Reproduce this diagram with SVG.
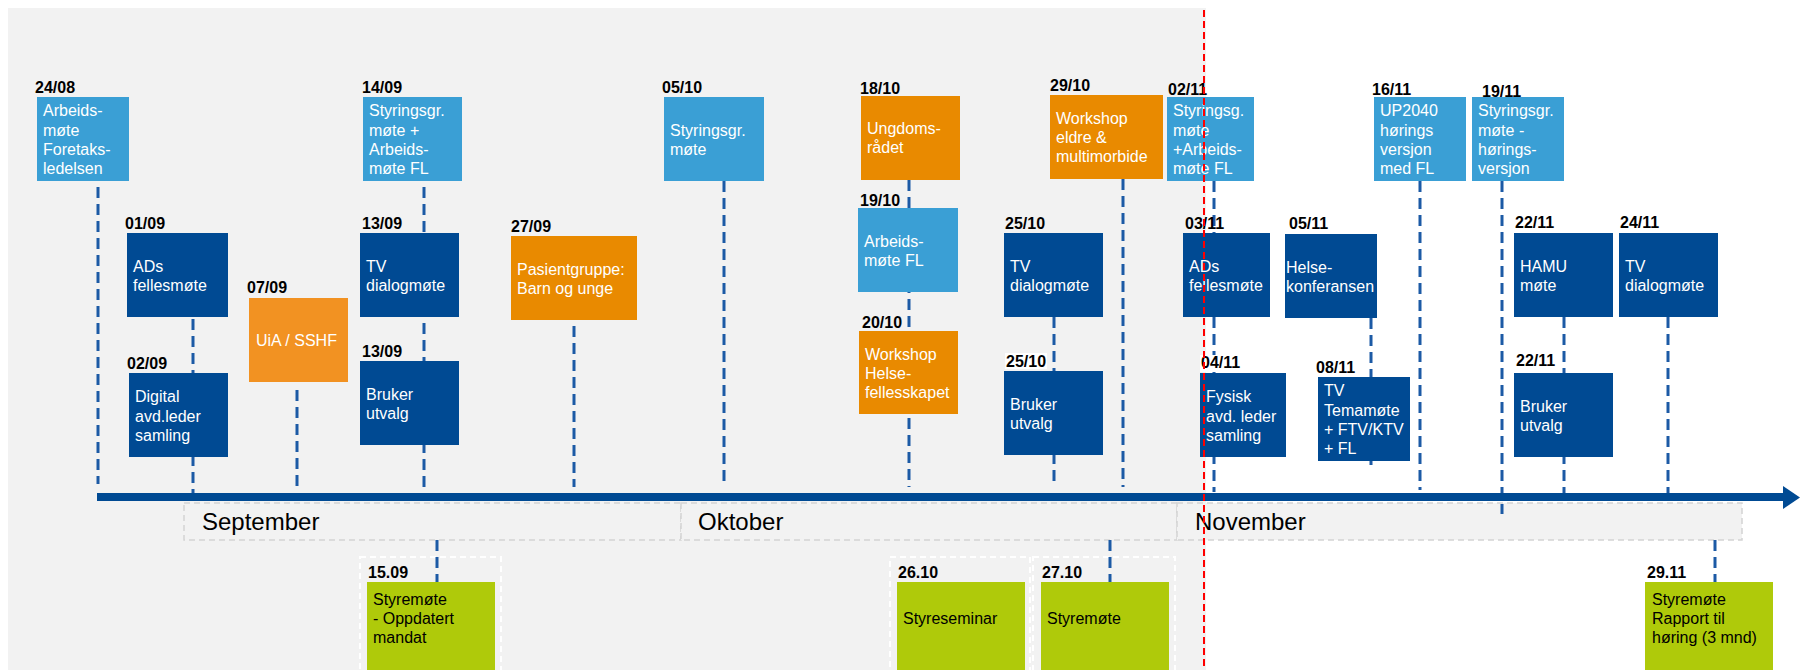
<svg xmlns="http://www.w3.org/2000/svg" width="1800" height="670" viewBox="0 0 1800 670">
<style>
.t{font-family:"Liberation Sans",Arial,sans-serif;font-size:16px;fill:#fff}
.k{font-family:"Liberation Sans",Arial,sans-serif;font-size:16px;fill:#000}
.d{font-family:"Liberation Sans",Arial,sans-serif;font-size:16px;font-weight:bold;fill:#000}
.m{font-family:"Liberation Sans",Arial,sans-serif;font-size:24px;fill:#000}
.lb{fill:#3a9fd5}
.db{fill:#004a93}
.or{fill:#e98a00}
.or2{fill:#f29222}
.gr{fill:#afca0a}
.c{stroke:#1c5aa5;stroke-width:3;stroke-dasharray:11 6;fill:none}
.mb{fill:#f2f2f2;stroke:#d4d4d4;stroke-width:1.5;stroke-dasharray:6 4}
.wb{fill:none;stroke:#fff;stroke-width:2;stroke-dasharray:6 4}
</style>
<rect x="0" y="0" width="1800" height="670" fill="#fff"/>
<rect x="8" y="8" width="1198" height="662" fill="#f2f2f2"/>

<g id="months">
<rect class="mb" x="184" y="503" width="497" height="37"/>
<rect class="mb" x="681" y="503" width="496" height="37"/>
<rect class="mb" x="1177" y="503" width="565" height="37"/>
<text class="m" x="202" y="530">September</text>
<text class="m" x="698" y="530">Oktober</text>
<text class="m" x="1195" y="530">November</text>
</g>

<g id="board-frames">
<rect class="wb" x="360" y="557" width="141" height="120"/>
<rect class="wb" x="890" y="557" width="140" height="120"/>
<rect class="wb" x="1033" y="557" width="142" height="120"/>
</g>

<g id="connectors">
<line class="c" x1="98" y1="187" x2="98" y2="484"/>
<line class="c" x1="193" y1="319" x2="193" y2="493"/>
<line class="c" x1="297" y1="390" x2="297" y2="487"/>
<line class="c" x1="424" y1="187" x2="424" y2="493"/>
<line class="c" x1="574" y1="326" x2="574" y2="487"/>
<line class="c" x1="724" y1="181" x2="724" y2="487"/>
<line class="c" x1="909" y1="180" x2="909" y2="487"/>
<line class="c" x1="1054" y1="317" x2="1054" y2="487"/>
<line class="c" x1="1123" y1="179" x2="1123" y2="487"/>
<line class="c" x1="1214" y1="181" x2="1214" y2="492"/>
<line class="c" x1="1371" y1="318" x2="1371" y2="471"/>
<line class="c" x1="1420" y1="181" x2="1420" y2="490"/>
<line class="c" x1="1502" y1="181" x2="1502" y2="514"/>
<line class="c" x1="1564" y1="317" x2="1564" y2="504"/>
<line class="c" x1="1668" y1="317" x2="1668" y2="504"/>
<line class="c" x1="437" y1="540" x2="437" y2="582"/>
<line class="c" x1="1110" y1="540" x2="1110" y2="582"/>
<line class="c" x1="1715" y1="540" x2="1715" y2="582"/>
</g>

<g id="axis">
<line x1="97" y1="497" x2="1785" y2="497" stroke="#004a93" stroke-width="8"/>
<polygon points="1783,486 1800,497.5 1783,509" fill="#004a93"/>
</g>

<g id="n2408">
<text class="d" x="35" y="93">24/08</text>
<rect class="lb" x="37" y="97" width="92" height="84"/>
<text class="t" x="43" y="116">Arbeids-</text>
<text class="t" x="43" y="136">møte</text>
<text class="t" x="43" y="155">Foretaks-</text>
<text class="t" x="43" y="174">ledelsen</text>
</g>

<g id="n0109">
<text class="d" x="125" y="229">01/09</text>
<rect class="db" x="127" y="233" width="101" height="84"/>
<text class="t" x="133" y="272">ADs</text>
<text class="t" x="133" y="291">fellesmøte</text>
</g>

<g id="n0209">
<text class="d" x="127" y="369">02/09</text>
<rect class="db" x="129" y="373" width="99" height="84"/>
<text class="t" x="135" y="402">Digital</text>
<text class="t" x="135" y="422">avd.leder</text>
<text class="t" x="135" y="441">samling</text>
</g>

<g id="n0709">
<text class="d" x="247" y="293">07/09</text>
<rect class="or2" x="249" y="298" width="99" height="84"/>
<text class="t" x="256" y="346">UiA / SSHF</text>
</g>

<g id="n1409">
<text class="d" x="362" y="93">14/09</text>
<rect class="lb" x="363" y="97" width="99" height="84"/>
<text class="t" x="369" y="116">Styringsgr.</text>
<text class="t" x="369" y="136">møte +</text>
<text class="t" x="369" y="155">Arbeids-</text>
<text class="t" x="369" y="174">møte FL</text>
</g>

<g id="n1309a">
<text class="d" x="362" y="229">13/09</text>
<rect class="db" x="360" y="233" width="99" height="84"/>
<text class="t" x="366" y="272">TV</text>
<text class="t" x="366" y="291">dialogmøte</text>
</g>

<g id="n1309b">
<text class="d" x="362" y="357">13/09</text>
<rect class="db" x="360" y="361" width="99" height="84"/>
<text class="t" x="366" y="400">Bruker</text>
<text class="t" x="366" y="419">utvalg</text>
</g>

<g id="n2709">
<text class="d" x="511" y="232">27/09</text>
<rect class="or" x="511" y="236" width="126" height="84"/>
<text class="t" x="517" y="275">Pasientgruppe:</text>
<text class="t" x="517" y="294">Barn og unge</text>
</g>

<g id="n1509">
<text class="d" x="368" y="578">15.09</text>
<rect class="gr" x="367" y="582" width="128" height="95"/>
<text class="k" x="373" y="605">Styremøte</text>
<text class="k" x="373" y="624">- Oppdatert</text>
<text class="k" x="373" y="643">mandat</text>
</g>

<g id="n0510">
<text class="d" x="662" y="93">05/10</text>
<rect class="lb" x="664" y="97" width="100" height="84"/>
<text class="t" x="670" y="136">Styringsgr.</text>
<text class="t" x="670" y="155">møte</text>
</g>

<g id="n1810">
<text class="d" x="860" y="94">18/10</text>
<rect class="or" x="861" y="96" width="99" height="84"/>
<text class="t" x="867" y="134">Ungdoms-</text>
<text class="t" x="867" y="153">rådet</text>
</g>

<g id="n1910">
<text class="d" x="860" y="206">19/10</text>
<rect class="lb" x="858" y="208" width="100" height="84"/>
<text class="t" x="864" y="247">Arbeids-</text>
<text class="t" x="864" y="266">møte FL</text>
</g>

<g id="n2010">
<text class="d" x="862" y="328">20/10</text>
<rect class="or" x="859" y="331" width="99" height="83"/>
<text class="t" x="865" y="360">Workshop</text>
<text class="t" x="865" y="379">Helse-</text>
<text class="t" x="865" y="398">fellesskapet</text>
</g>

<g id="n2510a">
<text class="d" x="1005" y="229">25/10</text>
<rect class="db" x="1004" y="233" width="99" height="84"/>
<text class="t" x="1010" y="272">TV</text>
<text class="t" x="1010" y="291">dialogmøte</text>
</g>

<g id="n2510b">
<rect x="1005" y="353" width="42" height="16" fill="#fff"/>
<text class="d" x="1006" y="367">25/10</text>
<rect class="db" x="1004" y="371" width="99" height="84"/>
<text class="t" x="1010" y="410">Bruker</text>
<text class="t" x="1010" y="429">utvalg</text>
</g>

<g id="n2910">
<text class="d" x="1050" y="91">29/10</text>
<rect class="or" x="1050" y="95" width="113" height="84"/>
<text class="t" x="1056" y="124">Workshop</text>
<text class="t" x="1056" y="143">eldre &amp;</text>
<text class="t" x="1056" y="162">multimorbide</text>
</g>

<g id="n2610">
<text class="d" x="898" y="578">26.10</text>
<rect class="gr" x="897" y="582" width="128" height="95"/>
<text class="k" x="903" y="624">Styreseminar</text>
</g>

<g id="n2710">
<text class="d" x="1042" y="578">27.10</text>
<rect class="gr" x="1041" y="582" width="128" height="95"/>
<text class="k" x="1047" y="624">Styremøte</text>
</g>

<g id="n0211">
<text class="d" x="1168" y="95">02/11</text>
<rect class="lb" x="1167" y="97" width="87" height="84"/>
<text class="t" x="1173" y="116">Styringsg.</text>
<text class="t" x="1173" y="136">møte</text>
<text class="t" x="1173" y="155">+Arbeids-</text>
<text class="t" x="1173" y="174">møte FL</text>
</g>

<g id="n0311">
<text class="d" x="1185" y="229">03/11</text>
<rect class="db" x="1183" y="233" width="87" height="84"/>
<text class="t" x="1189" y="272">ADs</text>
<text class="t" x="1189" y="291">fellesmøte</text>
</g>

<g id="n0411">
<rect x="1200" y="355" width="40" height="17" fill="#fff"/>
<text class="d" x="1201" y="368">04/11</text>
<rect class="db" x="1200" y="373" width="86" height="84"/>
<text class="t" x="1206" y="402">Fysisk</text>
<text class="t" x="1206" y="422">avd. leder</text>
<text class="t" x="1206" y="441">samling</text>
</g>

<g id="n0511">
<text class="d" x="1289" y="229">05/11</text>
<rect class="db" x="1285" y="234" width="92" height="84"/>
<text class="t" x="1286" y="273">Helse-</text>
<text class="t" x="1286" y="292">konferansen</text>
</g>

<g id="n0811">
<text class="d" x="1316" y="373">08/11</text>
<rect class="db" x="1318" y="377" width="92" height="84"/>
<text class="t" x="1324" y="396">TV</text>
<text class="t" x="1324" y="416">Temamøte</text>
<text class="t" x="1324" y="435">+ FTV/KTV</text>
<text class="t" x="1324" y="454">+ FL</text>
</g>

<g id="n1611">
<text class="d" x="1372" y="95">16/11</text>
<rect class="lb" x="1374" y="97" width="92" height="84"/>
<text class="t" x="1380" y="116">UP2040</text>
<text class="t" x="1380" y="136">hørings</text>
<text class="t" x="1380" y="155">versjon</text>
<text class="t" x="1380" y="174">med FL</text>
</g>

<g id="n1911">
<rect class="lb" x="1472" y="97" width="92" height="84"/>
<text class="d" x="1482" y="97">19/11</text>
<text class="t" x="1478" y="116">Styringsgr.</text>
<text class="t" x="1478" y="136">møte -</text>
<text class="t" x="1478" y="155">hørings-</text>
<text class="t" x="1478" y="174">versjon</text>
</g>

<g id="n2211a">
<text class="d" x="1515" y="228">22/11</text>
<rect class="db" x="1514" y="233" width="99" height="84"/>
<text class="t" x="1520" y="272">HAMU</text>
<text class="t" x="1520" y="291">møte</text>
</g>

<g id="n2211b">
<text class="d" x="1516" y="366">22/11</text>
<rect class="db" x="1514" y="373" width="99" height="84"/>
<text class="t" x="1520" y="412">Bruker</text>
<text class="t" x="1520" y="431">utvalg</text>
</g>

<g id="n2411">
<text class="d" x="1620" y="228">24/11</text>
<rect class="db" x="1619" y="233" width="99" height="84"/>
<text class="t" x="1625" y="272">TV</text>
<text class="t" x="1625" y="291">dialogmøte</text>
</g>

<g id="n2911">
<text class="d" x="1647" y="578">29.11</text>
<rect class="gr" x="1645" y="582" width="128" height="95"/>
<text class="k" x="1652" y="605">Styremøte</text>
<text class="k" x="1652" y="624">Rapport til</text>
<text class="k" x="1652" y="643">høring (3 mnd)</text>
</g>

<g id="today">
<line x1="1204" y1="10" x2="1204" y2="670" stroke="#ff0000" stroke-width="2" stroke-dasharray="7 4"/>
</g>
</svg>
